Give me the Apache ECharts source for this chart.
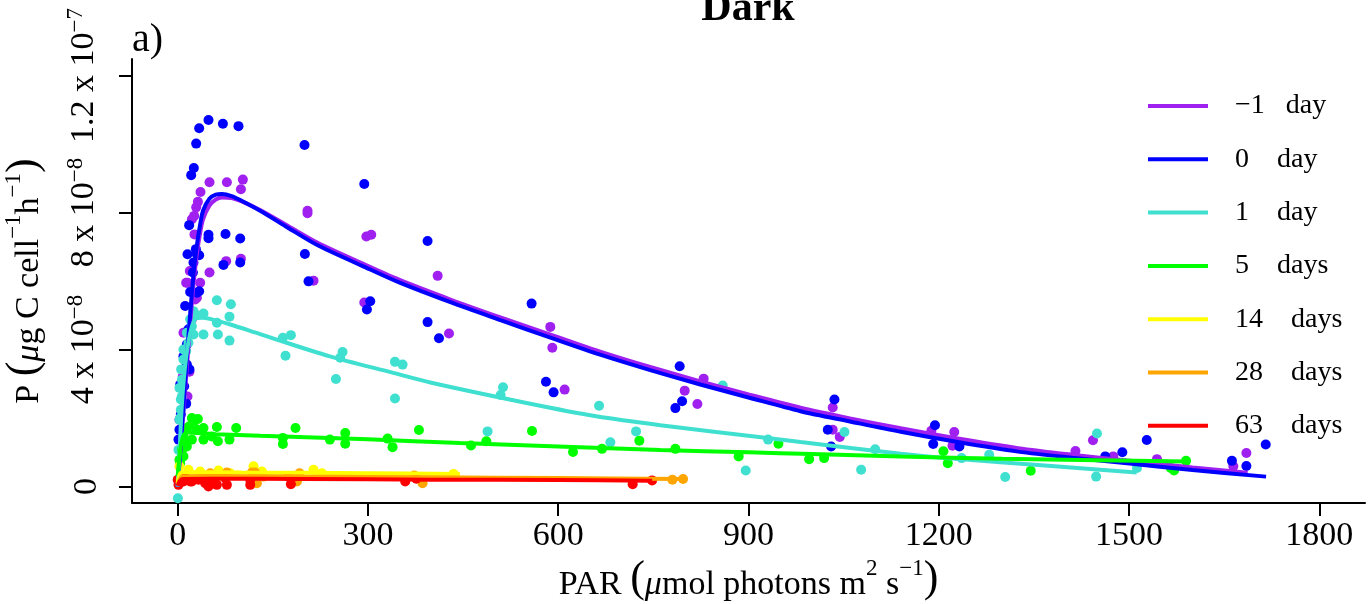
<!DOCTYPE html>
<html><head><meta charset="utf-8">
<script src="https://cdn.jsdelivr.net/npm/echarts@6/dist/echarts.min.js"></script>
<style>html,body{margin:0;padding:0;background:#fff}#c{width:1370px;height:604px}</style>
</head><body><div id="c"></div>
<script>
// ---- data (P in units of 1e-8 µg C cell^-1 h^-1, PAR in µmol photons m^2 s^-1) ----
const xTicks = [0, 300, 600, 900, 1200, 1500, 1800];
const xTickLabels = ['0', '300', '600', '900', '1200', '1500', '1800'];
const yTicks = [0, 4, 8, 12];
const yTickLabels = ['0', '4 x 10{s|−8}', '8 x 10{s|−8}', '1.2 x 10{s|−7}'];
const groupNames = ['−1   day', '0    day', '1    day', '5    days', '14    days', '28    days', '63    days'];
const groupColors = ['#A020F0', '#0000FF', '#40E0D0', '#00FF00', '#FFFF00', '#FFA500', '#FF0000'];

const ptsM1 = [[15.5,5.95],[19.2,6.29],[22.4,7.80],[26,7.90],[29.2,8.15],[31.9,8.31],[36,8.60],[50.2,8.88],[77.6,8.88],[102.8,8.96],[99.7,8.68],[26.5,7.36],[76.5,6.58],[99.7,6.65],[50.2,6.25],[35.5,5.95],[27.6,5.46],[30.3,5.51],[13.4,5.95],[22.4,4.88],[18.6,3.35],[15.5,2.63],[9.1,4.49],[8.2,3.22],[2.8,1.95],
  [204.7,8.05],[204.7,7.98],[297.5,7.30],[305.2,7.35],[214.2,6.01],[294.2,5.37],[409.9,6.15],[427.8,4.47],[587.5,4.66],[590.7,4.05],[610.1,2.83],
  [829.3,3.15],[799.4,2.80],[819.4,2.41],[1032.8,2.31],[1032.8,1.66],[1043.9,1.45],
  [1188.3,1.63],[1224.4,1.59],[1221.6,1.19],[1415.5,1.04],[1443.1,1.35],[1475.1,0.88],[1544,0.80],[1664.4,0.59],[1685,0.98]];
const pts0 = [[48.6,10.70],[33.9,10.46],[71.3,10.59],[95.9,10.52],[29.2,10.01],[25.5,9.30],[21.3,9.09],[18.1,7.63],[48.6,7.35],[48.6,7.25],[75.4,7.37],[98.6,7.24],[15.5,6.78],[33.9,6.75],[28.7,6.93],[72.2,6.47],[98.6,6.54],[24,6.25],[19.7,5.68],[33.9,5.70],[24.9,6.54],[30.3,6.78],[11.8,5.27],[17,4.59],[14.5,4.15],[9.1,3.80],[14.5,3.56],[18.6,3.42],[3.9,2.98],[10.3,2.93],[13.4,2.42],[5,2.10],[2.8,1.66],[1.3,1.37],[30.3,5.66],
  [200,9.97],[294.2,8.83],[394,7.17],[200.6,6.79],[206.3,5.99],[303.6,5.41],[298.4,5.17],[394,4.80],[412,4.33],[558,5.34],[580.7,3.06],[592.7,2.75],
  [791.5,3.51],[795.3,2.49],[784.7,2.29],[1035.5,2.54],[1025,1.66],[1030.3,1.17],
  [1194,1.79],[1191.2,1.24],[1232.5,1.17],[1462.5,0.88],[1489.4,1.00],[1527.9,1.36],[1662.2,0.75],[1685,0.60],[1715.5,1.23]];
const pts1 = [[61.8,5.44],[83.9,5.32],[81.7,4.96],[61.8,4.78],[24.9,5.12],[40.7,5.05],[19.7,4.88],[40.7,4.44],[63.4,4.44],[81.7,4.26],[24.9,4.44],[17,4.20],[13.4,3.95],[9.1,3.71],[5.5,3.42],[6.6,3.12],[2.8,2.88],[5,2.54],[3.9,2.00],[1.3,1.07],[0.3,-0.34],[22.4,4.68],[14.5,4.49],[9.1,4.0],[6.6,2.63],[5,2.24],[2.8,1.95],[30.3,5.0],
  [165.9,4.34],[178.5,4.42],[170,3.82],[260,3.93],[256.3,3.76],[249.5,3.14],[342.6,3.64],[354.6,3.56],[342.6,2.57],[513,2.90],[509.2,2.67],[664.4,2.36],[488.6,1.61],[682.2,1.29],[722.7,1.61],
  [859.3,2.95],[930.9,1.37],[895.6,0.47],[1051.3,1.59],[1077.6,0.49],[1099.7,1.09],
  [1236,0.83],[1279.5,0.93],[1304.7,0.28],[1448.1,0.29],[1449.4,1.55],[1512.5,0.54]];
const pts5 = [[22.4,2.00],[31.9,1.97],[24.9,1.85],[14.5,1.71],[40.7,1.71],[61.8,1.74],[92.3,1.71],[53.9,1.46],[63.4,1.32],[81.7,1.37],[9.1,1.46],[22.4,1.37],[14.5,1.17],[6.6,1.07],[9.1,0.88],[2.8,0.78],[30.3,1.66],[18.6,1.76],[9.1,1.27],[3.9,0.68],[40.7,1.37],
  [185.8,1.71],[165.9,1.42],[165.9,1.24],[240,1.37],[264.2,1.56],[264.2,1.25],[331,1.40],[338.8,1.15],[380.4,1.65],[462.5,1.20],[486.6,1.32],[558.7,1.62],[623.3,1.01],[669.1,1.10],[727.9,1.34],
  [784.7,1.10],[884.5,0.88],[947.2,1.25],[995.6,0.80],[1019.2,0.83],
  [1207.3,1.03],[1214.2,0.68],[1345,0.46],[1565.8,0.54],[1571,0.47],[1589.9,0.75]];
const pts14 = [[2.8,0.59],[17,0.49],[35.5,0.44],[64.4,0.47],[82.8,0.39],[119.6,0.59],[132.8,0.44],[214.2,0.49],[227.4,0.39],[435,0.37]];
const pts28 = [[9.1,0.29],[46,0.15],[51.3,0.39],[77.6,0.41],[117,0.41],[122.2,0.41],[124.9,0.10],[135.3,0.29],[192.1,0.39],[188,0.15],[373,0.32],[386.1,0.10],[780,0.20],[796.8,0.22]];
const pts63 = [[0,0.20],[1.3,0.05],[9.1,0.15],[11.8,0.25],[19.7,0.15],[22.4,0.15],[32.8,0.20],[43.4,0.10],[48.6,0.20],[48.6,0.0],[56.5,0.20],[61.8,0.05],[74.9,0.25],[77.6,0.05],[114.4,0.20],[114.4,0.05],[174.8,0.29],[178.5,0.07],[358.8,0.15],[376.2,0.23],[717.4,0.07],[748,0.18]];

const fitM1 = [[0,0],[5,1.2],[10,2.4],[15,3.6],[20,4.8],[25,5.9],[30,6.75],[35,7.35],[40,7.8],[50,8.2],[60,8.38],[70,8.44],[85,8.42],[100,8.33],[130,8.07],[170,7.65],[220,7.12],[290,6.52],[350,6.03],[430,5.46],[510,4.93],[590,4.42],[666,3.94],[745,3.49],[824,3.07],[900,2.69],[982,2.3],[1060,1.99],[1140,1.7],[1230,1.4],[1325,1.12],[1410,0.93],[1497,0.76],[1600,0.56],[1687,0.40]];
const fit0 = [[0,0],[5,1.3],[10,2.6],[15,3.9],[20,5.1],[25,6.2],[30,7.0],[35,7.6],[40,8.05],[50,8.4],[60,8.52],[70,8.54],[85,8.48],[100,8.35],[130,8.05],[170,7.6],[220,7.05],[290,6.45],[350,5.95],[430,5.38],[510,4.85],[590,4.33],[666,3.85],[745,3.4],[824,2.98],[900,2.6],[982,2.2],[1060,1.9],[1140,1.6],[1230,1.3],[1325,1.02],[1410,0.84],[1497,0.68],[1600,0.48],[1716,0.29]];
const fit1 = [[0,0],[3,1.0],[6,2.2],[10,3.2],[15,4.0],[20,4.5],[25,4.8],[30,4.92],[40,4.93],[60,4.85],[83,4.73],[130,4.45],[240,3.8],[340,3.32],[400,3.03],[550,2.44],[660,2.05],[761,1.79],[930,1.42],[982,1.3],[1140,0.96],[1211,0.83],[1383,0.59],[1512,0.41]];
const fit5 = [[0,0.3],[3,0.9],[6,1.3],[10,1.52],[15,1.58],[20,1.58],[30,1.56],[60,1.53],[130,1.48],[300,1.38],[445,1.27],[600,1.17],[761,1.07],[900,1.0],[1000,0.95],[1140,0.88],[1300,0.81],[1450,0.77],[1590,0.73]];
const fit14 = [[0,0.1],[3,0.35],[8,0.42],[20,0.42],[100,0.41],[200,0.40],[300,0.39],[445,0.37]];
const fit28 = [[0,0.05],[3,0.2],[8,0.3],[50,0.31],[200,0.29],[400,0.27],[600,0.25],[797,0.22]];
const fit63 = [[0,0.02],[3,0.15],[8,0.22],[50,0.23],[200,0.22],[400,0.20],[600,0.19],[748,0.17]];

const allPts = [ptsM1, pts0, pts1, pts5, pts14, pts28, pts63];
const allFits = [fitM1, fit0, fit1, fit5, fit14, fit28, fit63];

const FONT = 'Liberation Serif';
const series = [];
allPts.forEach((p, i) => {
  series.push({ type: 'scatter', name: 'pts' + i, data: p, symbol: 'circle', symbolSize: 10,
    itemStyle: { color: groupColors[i], opacity: 1 }, silent: true });
  series.push({ type: 'line', name: groupNames[i], data: allFits[i], showSymbol: false, smooth: 0.3,
    lineStyle: { color: groupColors[i], width: 4 }, itemStyle: { color: groupColors[i] }, silent: true });
});

const richName = {
  t: { fontSize: 34, fontFamily: FONT, color: '#000', verticalAlign: 'bottom', lineHeight: 44 },
  i: { fontSize: 34, fontFamily: FONT, fontStyle: 'italic', color: '#000', verticalAlign: 'bottom', lineHeight: 44 },
  p: { fontSize: 44, fontFamily: FONT, color: '#000', verticalAlign: 'bottom', lineHeight: 44 },
  s: { fontSize: 23, fontFamily: FONT, color: '#000', verticalAlign: 'top', lineHeight: 44 }
};

const chart = echarts.init(document.getElementById('c'), null, { renderer: 'canvas' });
chart.setOption({
  animation: false,
  backgroundColor: '#fff',
  textStyle: { fontFamily: FONT },
  grid: { left: 132, top: 59, width: 1233, height: 444, containLabel: false, outerBoundsMode: 'none' },
  xAxis: {
    type: 'value', min: -72, max: 1872,
    name: '{t|PAR }{p|(}{i|μ}{t|mol photons m}{s|2}{t| s}{s|−1}{p|)}',
    nameLocation: 'middle', nameGap: 52,
    nameTextStyle: { fontFamily: FONT, color: '#000', fontSize: 34, rich: richName },
    axisLine: { show: true, onZero: false, lineStyle: { color: '#000', width: 2 } },
    axisTick: { show: true, length: 13, lineStyle: { color: '#000', width: 2 }, customValues: xTicks },
    axisLabel: { show: true, customValues: xTicks, margin: 16, fontSize: 34, fontFamily: FONT, color: '#000',
      formatter: v => { const k = xTicks.indexOf(v); return k >= 0 ? xTickLabels[k] : ''; } },
    splitLine: { show: false }
  },
  yAxis: {
    type: 'value', min: -0.48, max: 12.48,
    name: '{t|P }{p|(}{i|μ}{t|g C cell}{s|−1}{t|h}{s|−1}{p|)}',
    nameLocation: 'middle', nameGap: 86, nameRotate: 90,
    nameTextStyle: { fontFamily: FONT, color: '#000', fontSize: 34, rich: richName },
    axisLine: { show: true, onZero: false, lineStyle: { color: '#000', width: 2 } },
    axisTick: { show: true, length: 13, lineStyle: { color: '#000', width: 2 }, customValues: yTicks },
    axisLabel: { show: true, customValues: yTicks, rotate: 90, margin: 28, fontSize: 34, fontFamily: FONT, color: '#000',
      formatter: v => { const k = yTicks.indexOf(v); return k >= 0 ? yTickLabels[k] : ''; },
      rich: { s: { fontSize: 23, fontFamily: FONT, color: '#000', verticalAlign: 'top', lineHeight: 40 } } },
    splitLine: { show: false }
  },
  legend: {
    data: groupNames.map(n => ({ name: n, icon: 'rect' })),
    orient: 'vertical', left: 1148, top: 91, padding: 0,
    itemWidth: 60, itemHeight: 4, itemGap: 23.3,
    selectedMode: false,
    formatter: n => '{a|' + n + '}',
    textStyle: { fontFamily: FONT, fontSize: 28, color: '#000', lineHeight: 30,
      rich: { a: { fontFamily: FONT, fontSize: 28, color: '#000', lineHeight: 30, padding: [0, 0, 0, 22] } } }
  },
  graphic: [
    { type: 'text', x: 748, y: 9, silent: true,
      style: { text: 'Dark', font: 'bold 42px "Liberation Serif"', fill: '#000', textAlign: 'center', textVerticalAlign: 'middle' } },
    { type: 'text', x: 132, y: 40, silent: true,
      style: { text: 'a)', font: '40px "Liberation Serif"', fill: '#000', textAlign: 'left', textVerticalAlign: 'middle' } }
  ],
  series: series
});
</script>
</body></html>
